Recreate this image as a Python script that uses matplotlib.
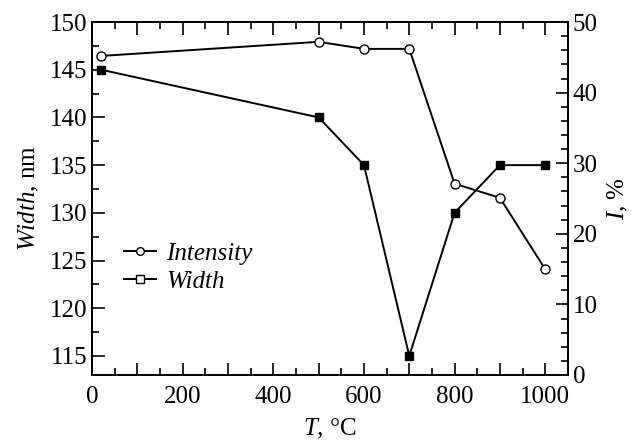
import numpy as np
import matplotlib
matplotlib.use("Agg")
import matplotlib.pyplot as plt
from matplotlib.lines import Line2D
from matplotlib.ticker import MultipleLocator, FuncFormatter

plt.rcParams['font.family'] = ['Liberation Serif', 'DejaVu Serif']
plt.rcParams['mathtext.fontset'] = 'custom'
plt.rcParams['mathtext.rm'] = 'Liberation Serif'
plt.rcParams['mathtext.it'] = 'Liberation Serif:italic'

# data
temp = [20, 500, 600, 700, 800, 900, 1000]
width = [145, 140, 135, 115, 130, 135, 135]
intensity = [45.2, 47.2, 46.2, 46.2, 27.1, 25.1, 15.0]

fig = plt.figure(figsize=(6.38, 4.41), dpi=100)
ax = fig.add_axes([0.1445, 0.1497, 0.7455, 0.8003])
ax2 = ax.twinx()

ax.plot(temp, width, '-s', color='black', lw=1.4, ms=6,
        mfc='black', mec='black', zorder=3)
ax2.plot(temp, intensity, '-o', color='black', lw=1.4, ms=6.5,
         mfc='white', mec='black', mew=1.0, zorder=3)

ax.set_xlim(0, 1050)
ax.set_ylim(113, 150)
ax2.set_ylim(0, 50)

ax.xaxis.set_major_locator(MultipleLocator(100))
ax.xaxis.set_minor_locator(MultipleLocator(50))
ax.xaxis.set_major_formatter(FuncFormatter(
    lambda v, p: '%d' % v if int(round(v)) % 200 == 0 else ''))
ax.yaxis.set_major_locator(MultipleLocator(5))
ax.yaxis.set_minor_locator(MultipleLocator(2.5))
ax2.yaxis.set_major_locator(MultipleLocator(10))
ax2.yaxis.set_minor_locator(MultipleLocator(2))

fs = 18
ax.tick_params(which='both', direction='in', top=True, labelsize=fs, width=1.2)
ax.tick_params(which='major', length=9)
ax.tick_params(which='minor', length=5)
ax2.tick_params(which='both', direction='in', labelsize=fs, width=1.2)
ax2.tick_params(which='major', length=9)
ax2.tick_params(which='minor', length=5)
ax.tick_params(axis='x', pad=8)
for a in (ax, ax2):
    for s in a.spines.values():
        s.set_linewidth(1.4)

ax.set_xlabel(r'$\it{T}$, °C', fontsize=fs, labelpad=6)
ax.set_ylabel(r'$\it{Width}$, nm', fontsize=fs, labelpad=6)
ax2.set_ylabel(r'$\it{I}$, %', fontsize=fs, labelpad=6)

handles = [
    Line2D([], [], color='black', lw=1.4, marker='o', ms=5.5, mfc='white', mec='black'),
    Line2D([], [], color='black', lw=1.4, marker='s', ms=5.5, mfc='white', mec='black'),
]
leg = ax.legend(handles, ['Intensity', 'Width'], loc='upper left',
                bbox_to_anchor=(0.066, 0.375), frameon=False, fontsize=fs,
                borderpad=0, borderaxespad=0,
                handlelength=1.3, handletextpad=0.4, labelspacing=0.22)
for t in leg.get_texts():
    t.set_fontstyle('italic')

fig.savefig('out.png', dpi=100)
